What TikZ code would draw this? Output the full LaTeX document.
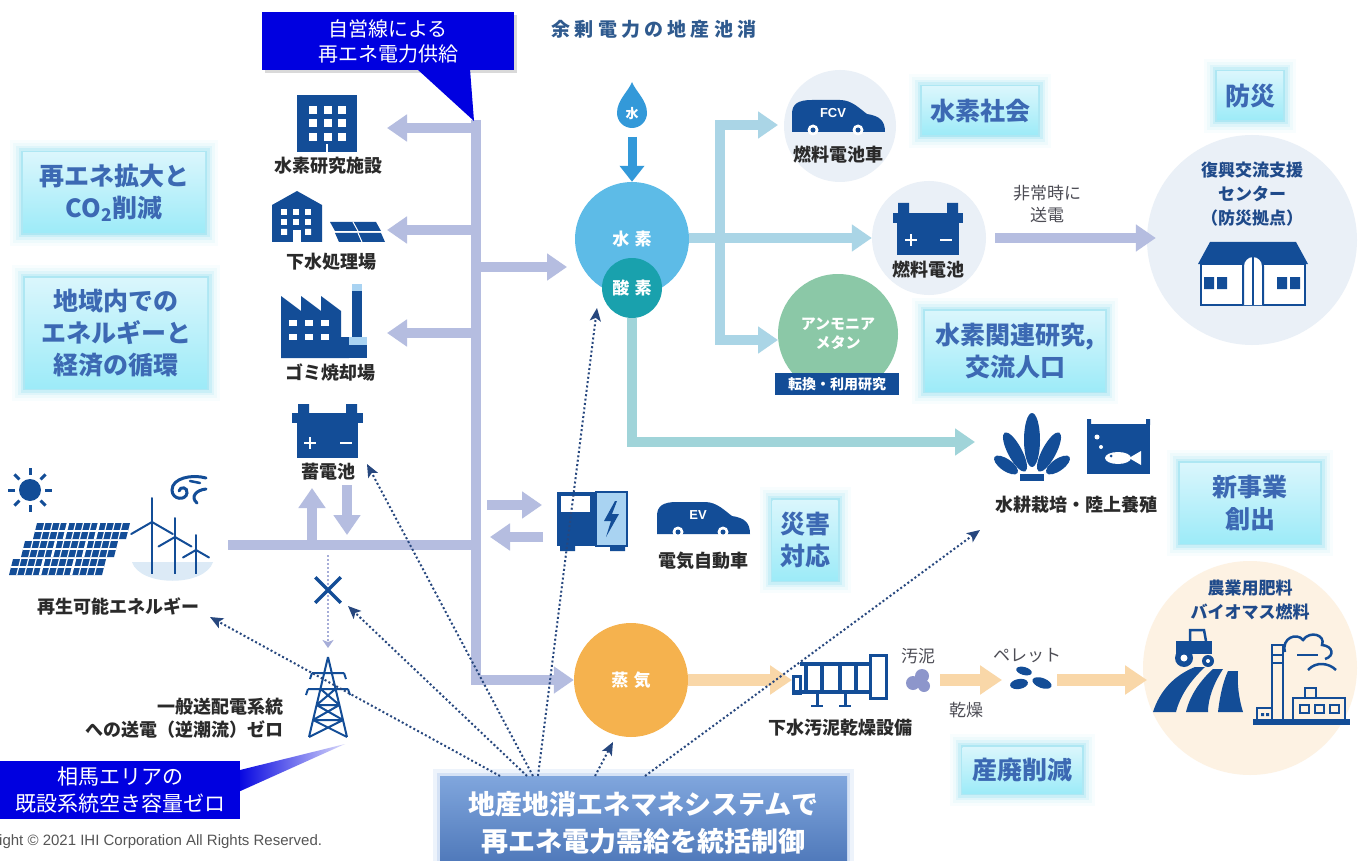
\documentclass[tikz,border=0pt]{standalone}
\usepackage{fontspec}
\setmainfont{Noto Sans CJK JP}
\newfontfamily\copyfont{Liberation Sans}
\usetikzlibrary{arrows.meta}
\usetikzlibrary{positioning}
\usetikzlibrary{shapes.misc}

\definecolor{iconblue}{HTML}{134D97}
\definecolor{skyc}{HTML}{A9D3F2}
\definecolor{seac}{HTML}{DCEAF6}
\definecolor{busc}{HTML}{B5BDE0}
\definecolor{gridc}{HTML}{A6ADD8}
\definecolor{hydroc}{HTML}{AAD5E6}
\definecolor{oxyc}{HTML}{A0D4D9}
\definecolor{steamc}{HTML}{F9D7A8}
\definecolor{hcirc}{HTML}{5DBBE7}
\definecolor{ocirc}{HTML}{19A1AD}
\definecolor{scirc}{HTML}{F5B24E}
\definecolor{acirc}{HTML}{8BC8A7}
\definecolor{dropc}{HTML}{3399D9}
\definecolor{palec}{HTML}{EAF0F7}
\definecolor{peachc}{HTML}{FDF2E3}
\definecolor{sludgec}{HTML}{8D96CB}
\definecolor{calloutc}{HTML}{0000E0}
\definecolor{goaltop}{HTML}{DAF6FC}
\definecolor{goalbot}{HTML}{9DEBF8}
\definecolor{glowc}{HTML}{4FCDE8}
\definecolor{goaltxt}{HTML}{3C69B3}
\definecolor{emstop}{HTML}{80A6DD}
\definecolor{emsbot}{HTML}{4B75B7}
\definecolor{emsglow}{HTML}{A9C4EC}
\definecolor{ctlc}{HTML}{27477E}
\definecolor{labc}{HTML}{2A2A2A}
\definecolor{notec}{HTML}{4D4D55}
\definecolor{navytxt}{HTML}{1F4A8A}
\definecolor{titlec}{HTML}{2F5A8E}
\definecolor{copyc}{HTML}{555555}

\tikzset{
  car/.pic={
    \fill[iconblue] (0,32) -- (0,14) .. controls (0,4) and (6,0) .. (20,0) -- (48,0)
      .. controls (60,0) and (68,9) .. (75,14) .. controls (88,16) and (93,21) .. (93,32) -- cycle;
    \fill[white] (21,30) circle[radius=5.5] (66,30) circle[radius=5.5];
    \fill[iconblue] (21,30) circle[radius=2.5] (66,30) circle[radius=2.5];
    \node[font=\copyfont\bfseries\fontsize{13}{13}\selectfont, text=white] (-txt) at (41,13) {#1};
  }
}

\begin{document}
\begin{tikzpicture}[x=1pt, y=-1pt,
    lbl/.style={font=\bfseries\fontsize{18}{23}\selectfont, text=labc, inner sep=0pt},
    note/.style={font=\fontsize{17}{22}\selectfont, text=notec, inner sep=0pt, align=center},
    navy/.style={font=\bfseries\fontsize{17}{24}\selectfont, text=navytxt, inner sep=0pt, align=center},
    inball/.style={circle, inner sep=0pt, text=white,
      font=\bfseries\fontsize{17}{20}\selectfont\addfontfeature{LetterSpace=30}},
    pale/.style={circle, fill=palec, inner sep=0pt},
    goal/.style={rectangle, inner sep=0pt, align=center, top color=goaltop, bottom color=goalbot,
      text=goaltxt, font=\bfseries\fontsize{25}{32}\selectfont,
      preaction={draw=glowc, line width=26pt, draw opacity=0.04},
      preaction={draw=glowc, line width=20pt, draw opacity=0.06},
      preaction={draw=glowc, line width=14pt, draw opacity=0.09},
      preaction={draw=glowc, line width=9pt, draw opacity=0.14},
      preaction={draw=glowc, line width=4pt, draw opacity=0.22}},
    callout/.style={rectangle, inner sep=0pt, align=center, fill=calloutc, text=white},
    bus/.style={draw=busc, line width=10pt},
    busarrow/.style={bus, -{Triangle[width=26pt,length=20pt]}},
    h2arrow/.style={draw=hydroc, line width=10pt, -{Triangle[width=26pt,length=20pt]}},
    o2arrow/.style={draw=oxyc, line width=10pt, -{Triangle[width=26pt,length=20pt]}},
    steamarrow/.style={draw=steamc, line width=12pt, -{Triangle[width=28pt,length=22pt]}},
    ctl/.style={draw=ctlc, line width=2pt, dash pattern=on 2pt off 2.4pt,
      -{Stealth[length=13pt,width=11pt,inset=3pt]}},
  ]
  \useasboundingbox (0,0) rectangle (1360,861);
  \fill[white] (0,0) rectangle (1360,861);

  % pale backdrops
  \node[pale, minimum size=112pt] (fcvbg) at (840,126) {};
  \node[pale, minimum size=114pt] (fcellbg) at (929,238) {};
  \node[pale, minimum size=210pt] (basebg) at (1252,240) {};
  \node[circle, fill=peachc, inner sep=0pt, minimum size=214pt] (farmbg) at (1250,668) {};
  \fill[seac] (132,562) .. controls (140,587) and (205,587) .. (213,562) -- cycle;

  % process balls
  \node[inball, fill=hcirc, minimum size=114pt] (h2) at (632,239) {水素};
  \node[inball, fill=ocirc, minimum size=60pt] (o2) at (632,288) {酸素};
  \node[inball, fill=scirc, minimum size=114pt] (steam) at (631,680) {蒸気};
  \node[circle, fill=acirc, minimum size=120pt, inner sep=0pt, text=white, align=center,
    font=\bfseries\fontsize{15}{19}\selectfont] (nh3) at (838,334) {アンモニア\\メタン};

  % end points of the flows
  \coordinate (bustop) at (476,120);
  \coordinate (labtip) at (387,128);
  \coordinate (sewtip) at (387,230);
  \coordinate (incintip) at (387,333);
  \coordinate (h2tip) at (567,267);
  \coordinate (renewend) at (228,545);
  \coordinate (battup) at (312,488);
  \coordinate (battdown) at (347,535);
  \coordinate (chgin) at (542,505);
  \coordinate (chgout) at (490,537);
  \coordinate (fcvtip) at (778,125);
  \coordinate (nh3tip) at (778,340);
  \coordinate (aquatip) at (975,442);
  \coordinate (dryertip) at (792,680);
  \coordinate (pelletin) at (1002,680);
  \coordinate (farmtip) at (1147,680);

  % power bus from the self-owned line
  \draw[busarrow] (bustop) |- (steam.west);
  \draw[busarrow] (bustop |- labtip) -- (labtip);
  \draw[busarrow] (bustop |- sewtip) -- (sewtip);
  \draw[busarrow] (bustop |- incintip) -- (incintip);
  \draw[busarrow] (bustop |- h2tip) -- (h2tip);
  \draw[bus] (renewend) -- (bustop |- renewend);
  \draw[busarrow] (renewend -| battup) -- (battup);
  \draw[busarrow] (347,485) -- (battdown);
  \draw[busarrow] (487,505) -- (chgin);
  \draw[busarrow] (543,537) -- (chgout);
  \draw[busarrow] ([xshift=9pt]fcellbg.east) -- ([xshift=9pt]fcellbg.east -| basebg.west);

  % hydrogen and oxygen lines
  \draw[h2arrow] (h2.east |- fcellbg.west) -- (fcellbg.west);
  \draw[h2arrow, {Triangle[width=26pt,length=20pt]}-{Triangle[width=26pt,length=20pt]}]
    (fcvtip) -| (720,340) -- (nh3tip);
  \draw[o2arrow] (o2.south) |- (aquatip);

  % steam / sludge line
  \draw[steamarrow] (steam.east) -- (dryertip);
  \draw[steamarrow] (940,680) -- (pelletin);
  \draw[steamarrow] (1057,680) -- (farmtip);

  % water drop
  \fill[dropc] (632,82) .. controls (636,92) and (647,100) .. (647,113)
    arc[start angle=0, end angle=180, radius=15] .. controls (617,100) and (628,92) .. (632,82) -- cycle;
  \node[font=\bfseries\fontsize{13}{13}\selectfont, text=white] (water) at (632,114) {水};
  \draw[draw=dropc, line width=9pt, -{Triangle[width=24pt,length=16pt]}]
    ([yshift=-23pt]water.center) -- (h2.north);

  % research building
  \fill[iconblue] (297,95) rectangle (357,152);
  \foreach \i in {0,1,2} \foreach \j in {0,1,2}
    \fill[white] ({309+14.5*\i},{106+13.5*\j}) rectangle ++(8,8);
  \fill[white] (326,144) rectangle (328,152);

  % sewage plant with panels
  \fill[iconblue] (272,242) -- (272,205) -- (297,191) -- (322,205) -- (322,242) -- cycle;
  \foreach \i in {0,1,2} \foreach \j in {0,1}
    \fill[white] ({281+12*\i},{209+10*\j}) rectangle ++(6,6);
  \fill[white] (281,229) rectangle ++(6,6) (305,229) rectangle ++(6,6);
  \fill[white] (293,230) rectangle (301,242);
  \fill[iconblue] (330,222) -- (376,222) -- (381,231) -- (335,231) -- cycle;
  \fill[iconblue] (335,233) -- (381,233) -- (385,242) -- (339,242) -- cycle;
  \draw[white, line width=1pt] (353,222) -- (358,231) (358,233) -- (362,242);

  % incinerator
  \fill[iconblue] (281,358) -- (281,296) -- (301,311) -- (301,296) -- (321,311) -- (321,296)
    -- (341,311) -- (341,337) -- (349,337) -- (349,358) -- cycle;
  \fill[iconblue] (352,291) rectangle (362,337);
  \fill[skyc] (352,284) rectangle (362,291);
  \fill[skyc] (349,337) rectangle (367,345);
  \fill[iconblue] (349,345) rectangle (367,358);
  \foreach \i in {0,1,2} \foreach \j in {0,1}
    \fill[white] ({289+16*\i},{320+14*\j}) rectangle ++(8,6);

  % storage battery
  \fill[iconblue] (298,404) rectangle (309,414) (346,404) rectangle (357,414);
  \fill[iconblue] (292,413) rectangle (363,423);
  \fill[iconblue] (297,422) rectangle (358,458);
  \draw[white, line width=2.5pt] (304,443) -- (316,443) (310,437) -- (310,449) (340,443) -- (352,443);

  % fuel cell
  \fill[iconblue] (898,203) rectangle (909,214) (947,203) rectangle (958,214);
  \fill[iconblue] (893,213) rectangle (963,223);
  \fill[iconblue] (897,222) rectangle (959,255);
  \draw[white, line width=2.5pt] (905,240) -- (917,240) (911,234) -- (911,246) (940,240) -- (952,240);

  % sun, panels and turbines
  \fill[iconblue] (30,490) circle[radius=11];
  \foreach \a in {0,45,...,315}
    \draw[iconblue, line width=3pt] (30,490) ++(\a:15) -- ++(\a:7);
  \foreach \r in {0,1,2}{
    \fill[iconblue] ({37-12*\r},{523+18*\r}) -- ({130-12*\r},{523+18*\r})
      -- ({126-12*\r},{539+18*\r}) -- ({33-12*\r},{539+18*\r}) -- cycle;
    \foreach \k in {1,...,11}
      \draw[white, line width=1.2pt] ({37-12*\r+7.75*\k},{523+18*\r}) -- ({33-12*\r+7.75*\k},{539+18*\r});
    \foreach \k in {4,8}
      \draw[white, line width=2.5pt] ({37-12*\r+7.75*\k},{523+18*\r}) -- ({33-12*\r+7.75*\k},{539+18*\r});
    \draw[white, line width=1.2pt] ({35-12*\r},{531+18*\r}) -- ({128-12*\r},{531+18*\r});
  }
  \foreach \hx/\hy/\bl in {152/522/24, 175/537/19, 196/550/15}{
    \draw[iconblue, line width=2.5pt] (\hx,\hy) -- (\hx,574);
    \foreach \a in {-90,30,150}
      \draw[iconblue, line width=2pt, line cap=round] (\hx,\hy) -- ++(\a:\bl);
  }
  \draw[iconblue, line width=3pt, line cap=round]
    (206,478) .. controls (192,474) and (172,478) .. (172,490) .. controls (172,500) and (186,501) .. (187,493)
    .. controls (188,487) and (180,486) .. (179,491);
  \draw[iconblue, line width=3pt, line cap=round] (206,489) .. controls (196,490) and (190,497) .. (197,503);
  \draw[iconblue, line width=2.5pt, line cap=round] (190,481) -- (200,483);

  % no reverse flow to the grid
  \coordinate (gridtop) at (328,555);
  \coordinate (pylontop) at (328,648);
  \draw[draw=gridc, line width=2.5pt, dash pattern=on 2pt off 2pt,
    -{Stealth[length=8pt,width=11pt,inset=2pt]}] (gridtop) -- (pylontop);
  \node[cross out, draw=iconblue, line width=3.5pt, minimum size=22pt, inner sep=0pt] (cross) at (328,590) {};
  \draw[iconblue, line width=2pt, line join=round]
    (328,657) -- (309,737) (328,657) -- (347,737)
    (312,673) -- (344,673) (308,689) -- (348,689)
    (320.6,689) -- (339.4,705) -- (313,720) -- (347,737)
    (335.4,689) -- (316.6,705) -- (343,720) -- (309,737)
    (316.6,705) -- (339.4,705) (313,720) -- (343,720);
  \draw[iconblue, line width=2pt] (312,673) -- (310,679) (344,673) -- (346,679)
    (308,689) -- (306,695) (348,689) -- (350,695);

  % vehicles and charger
  \pic (fcv) at (792,100) {car=FCV};
  \pic (ev) at (657,502) {car=EV};
  \fill[iconblue] (557,492) rectangle (596,546);
  \fill[white] (561,496) rectangle (590,512);
  \fill[skyc] (596,492) rectangle (627,546);
  \draw[iconblue, line width=2pt] (596,492) rectangle (627,546);
  \fill[iconblue] (615,501) -- (604,521) -- (611,521) -- (606,537) -- (619,514) -- (612,514) -- (617,501) -- cycle;
  \fill[iconblue] (560,546) rectangle (575,551) (610,546) rectangle (625,551);

  % disaster base
  \fill[iconblue] (1210,242) -- (1296,242) -- (1308,264) -- (1198,264) -- cycle;
  \draw[iconblue, line width=2pt, fill=white] (1201,264) rectangle (1305,305);
  \fill[iconblue] (1204,277) rectangle (1214,289) (1217,277) rectangle (1227,289)
    (1277,277) rectangle (1287,289) (1290,277) rectangle (1300,289);
  \draw[iconblue, line width=2pt, fill=white] (1243,305) -- (1243,266)
    arc[start angle=180, end angle=360, radius=10] -- (1263,305);
  \draw[iconblue, line width=2pt] (1253,256) -- (1253,305);

  % seaweed and fish tank
  \fill[iconblue] (1032,440) ellipse[x radius=8, y radius=27];
  \fill[iconblue, rotate around={28:(1015,452)}] (1015,452) ellipse[x radius=7, y radius=22];
  \fill[iconblue, rotate around={-28:(1049,452)}] (1049,452) ellipse[x radius=7, y radius=22];
  \fill[iconblue, rotate around={55:(1006,465)}] (1006,465) ellipse[x radius=6, y radius=14];
  \fill[iconblue, rotate around={-55:(1058,465)}] (1058,465) ellipse[x radius=6, y radius=14];
  \fill[iconblue] (1020,474) rectangle (1044,481);
  \fill[iconblue] (1087,419) rectangle (1091,425) (1146,419) rectangle (1150,425);
  \fill[iconblue] (1087,424) rectangle (1150,474);
  \fill[white] (1118,458) ellipse[x radius=13, y radius=6];
  \fill[white] (1129,458) -- (1141,451) -- (1141,465) -- cycle;
  \fill[iconblue] (1111,456) circle[radius=1.5];
  \fill[white] (1097,437) circle[radius=2.5] (1101,447) circle[radius=2];

  % sludge dryer, sludge and pellets
  \draw[iconblue, line width=3.5pt] (800,664) -- (870,664) (795,692) -- (870,692);
  \foreach \bx in {806,822,840,856}
    \draw[iconblue, line width=4pt] (\bx,662) -- (\bx,694);
  \draw[iconblue, line width=3pt] (870,655) rectangle (886,698);
  \draw[iconblue, line width=3pt] (793,676) rectangle (800,693);
  \draw[iconblue, line width=3pt] (817,694) -- (817,706) (845,694) -- (845,706);
  \draw[iconblue, line width=2pt] (811,706) -- (823,706) (839,706) -- (851,706);
  \fill[sludgec] (913,683) circle[radius=7] (922,676) circle[radius=7] (924,686) circle[radius=6];
  \fill[iconblue, rotate around={-15:(1024,671)}] (1024,671) ellipse[x radius=8, y radius=4];
  \fill[iconblue, rotate around={10:(1019,684)}] (1019,684) ellipse[x radius=9, y radius=5];
  \fill[iconblue, rotate around={-20:(1042,683)}] (1042,683) ellipse[x radius=10, y radius=5];

  % tractor and fields
  \fill[iconblue] (1153,712) .. controls (1160,690) and (1175,675) .. (1195,667) -- (1205,667)
    .. controls (1190,681) and (1180,696) .. (1176,712) -- cycle;
  \fill[iconblue] (1186,712) .. controls (1190,695) and (1200,681) .. (1213,669) -- (1223,669)
    .. controls (1214,683) and (1208,698) .. (1208,712) -- cycle;
  \fill[iconblue] (1218,712) .. controls (1220,695) and (1223,682) .. (1228,671) -- (1238,671)
    .. controls (1237,685) and (1239,699) .. (1243,712) -- cycle;
  \fill[iconblue] (1176,641) rectangle (1212,654);
  \draw[iconblue, line width=2.5pt] (1190,641) -- (1190,630) -- (1204,630) -- (1206,641);
  \fill[iconblue] (1184,658) circle[radius=9] (1208,661) circle[radius=6];
  \fill[white] (1184,658) circle[radius=3.5] (1208,661) circle[radius=2];

  % biomass plant
  \fill[iconblue] (1253,719) rectangle (1350,725);
  \draw[iconblue, line width=2.5pt] (1293,719) -- (1293,698) -- (1345,698) -- (1345,719);
  \draw[iconblue, line width=2pt] (1300,705) rectangle (1309,713) (1315,705) rectangle (1324,713)
    (1330,705) rectangle (1339,713);
  \draw[iconblue, line width=2.5pt] (1272,719) -- (1272,645) -- (1283,645) -- (1283,719);
  \draw[iconblue, line width=1.5pt] (1272,655) -- (1283,655) (1272,663) -- (1283,663);
  \draw[iconblue, line width=2.5pt] (1257,719) -- (1257,708) -- (1272,708);
  \draw[iconblue, line width=2pt] (1305,698) -- (1305,688) -- (1316,688) -- (1316,698);
  \fill[iconblue] (1261,713) rectangle ++(3,3) (1266,713) rectangle ++(3,3);
  \draw[iconblue, line width=2.5pt] (1285,652) .. controls (1281,638) and (1297,632) .. (1303,640)
    .. controls (1310,630) and (1326,635) .. (1322,645) .. controls (1333,646) and (1335,656) .. (1325,659);
  \draw[iconblue, line width=2pt] (1297,655) -- (1318,655);
  \draw[iconblue, line width=2.5pt] (1308,670) .. controls (1316,661) and (1329,663) .. (1336,670);

  % labels
  \node[font=\bfseries\fontsize{19}{22}\selectfont\addfontfeature{LetterSpace=22}, text=titlec]
    (title) at (654,29) {余剰電力の地産池消};
  \node[lbl] (lablbl) at (328,166) {水素研究施設};
  \node[lbl] (sewlbl) at (331,262) {下水処理場};
  \node[lbl] (incinlbl) at (330,373) {ゴミ焼却場};
  \node[lbl] (battlbl) at (328,472) {蓄電池};
  \node[lbl] (renew) at (118,606) {再生可能エネルギー};
  \node[lbl, anchor=east, align=right] (gridlbl) at (284,718) {一般送配電系統\\への送電（逆潮流）ゼロ};
  \node[lbl] (fcvlbl) at (838,155) {燃料電池車};
  \node[lbl] (fcelllbl) at (928,270) {燃料電池};
  \node[rectangle, fill=iconblue, text=white, font=\bfseries\fontsize{14}{16}\selectfont,
    minimum width=124pt, minimum height=22pt, inner sep=0pt] (nh3lbl) at (837,384) {転換・利用研究};
  \node[lbl] (evlbl) at (703,561) {電気自動車};
  \node[lbl] (aqualbl) at (1076,505) {水耕栽培・陸上養殖};
  \node[lbl] (dryerlbl) at (840,728) {下水汚泥乾燥設備};
  \node[note] (sludge) at (918,656) {汚泥};
  \node[note] (pellet) at (1027,656) {ペレット};
  \node[note] (drying) at (966,710) {乾燥};
  \node[note] (emergency) at (1047,204) {非常時に\\送電};
  \node[navy] (baselbl) at (1252,194) {復興交流支援\\センター\\（防災拠点）};
  \node[navy] (farmlbl) at (1250,600) {農業用肥料\\バイオマス燃料};

  % effects
  \node[goal, minimum width=182pt, minimum height=80pt] (g1) at (114,193) {再エネ拡大と\\CO\textsubscript{2}削減};
  \node[goal, minimum width=182pt, minimum height=110pt] (g2) at (116,333) {地域内での\\エネルギーと\\経済の循環};
  \node[goal, minimum width=116pt, minimum height=48pt] (g3) at (980,111) {水素社会};
  \node[goal, minimum width=66pt, minimum height=48pt] (g4) at (1250,96) {防災};
  \node[goal, minimum width=180pt, minimum height=80pt] (g5) at (1015,351) {水素関連研究,\\交流人口};
  \node[goal, minimum width=140pt, minimum height=80pt] (g6) at (1250,503) {新事業\\創出};
  \node[goal, minimum width=65pt, minimum height=80pt] (g7) at (805,540) {災害\\対応};
  \node[goal, minimum width=119pt, minimum height=46pt] (g8) at (1022,770) {産廃削減};

  % callouts
  \node[callout, minimum width=252pt, minimum height=58pt, font=\fontsize{20}{25}\selectfont,
    preaction={fill=black, opacity=0.15, transform canvas={xshift=3pt, yshift=-3pt}}]
    (selfline) at (388,41) {自営線による\\再エネ電力供給};
  \fill[calloutc] (417,69) -- (470,69) -- (474,121) -- cycle;
  \shade[left color=calloutc, right color=calloutc!15] (236,771) -- (345,744) -- (236,793) -- cycle;
  \node[callout, anchor=north west, minimum width=240pt, minimum height=58pt, font=\fontsize{21}{27}\selectfont]
    (soma) at (0,761) {相馬エリアの\\既設系統空き容量ゼロ};

  % energy management system
  \node[rectangle, anchor=north west, inner sep=0pt, minimum width=407pt, minimum height=94pt,
    top color=emstop, bottom color=emsbot, text=white, align=center,
    font=\bfseries\fontsize{27}{37}\selectfont,
    preaction={draw=emsglow, line width=14pt, draw opacity=0.2},
    preaction={draw=emsglow, line width=6pt, draw opacity=0.35}]
    (ems) at (440,776) {地産地消エネマネシステムで\\再エネ電力需給を統括制御};

  \coordinate (renewtip) at (210,617);
  \coordinate (crosstip) at (348,606);
  \coordinate (batttip) at (367,464);
  \coordinate (o2tip) at (597,308);
  \coordinate (steamtip) at (613,742);
  \coordinate (aquactl) at (980,530);
  \draw[ctl] ([xshift=60pt]ems.north west) -- (renewtip);
  \draw[ctl] ([xshift=87pt]ems.north west) -- (crosstip);
  \draw[ctl] ([xshift=93pt]ems.north west) -- (batttip);
  \draw[ctl] ([xshift=98pt]ems.north west) -- (o2tip);
  \draw[ctl] ([xshift=155pt]ems.north west) -- (steamtip);
  \draw[ctl] ([xshift=205pt]ems.north west) -- (aquactl);

  \node[font=\copyfont\fontsize{15}{17}\selectfont, text=copyc, anchor=west, inner sep=0pt]
    (copy) at (-1,842) {ight © 2021 IHI Corporation All Rights Reserved.};
\end{tikzpicture}
\end{document}
